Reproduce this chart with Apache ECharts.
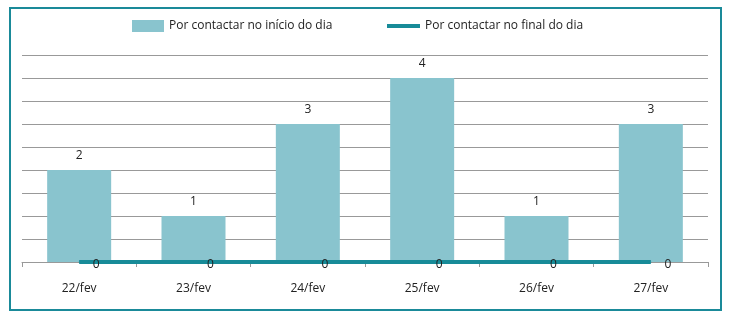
<!DOCTYPE html>
<html>
<head>
<meta charset="utf-8">
<script src="https://cdn.jsdelivr.net/npm/echarts@6/dist/echarts.min.js"></script>
<style>
    body { margin: 0; background: #fff; }
    #frame { position: absolute; left: 9px; top: 7px; width: 709px; height: 300px; border: 2px solid #1a8a99; }
    #chart { position: absolute; left: 0; top: 0; width: 731px; height: 315px; }
</style>
</head>
<body>
<div id="frame"></div>
<div id="chart"></div>
<script>
    var dias = ['22/fev', '23/fev', '24/fev', '25/fev', '26/fev', '27/fev'];
    var inicioDia = [2, 1, 3, 4, 1, 3];
    var finalDia = [0, 0, 0, 0, 0, 0];
    var nomeInicio = 'Por contactar no início do dia';
    var nomeFinal = 'Por contactar no final do dia';

    var chart = echarts.init(document.getElementById('chart'));
    var fonte = '"Open Sans", sans-serif';

    var option = {
        animation: false,
        textStyle: {fontFamily: fonte},
        legend: [{
            data: [nomeInicio],
            left: 127,
            top: 15,
            icon: 'rect',
            itemWidth: 32,
            itemHeight: 12,
            textStyle: {fontSize: 12, color: '#222', fontFamily: fonte}
        }, {
            data: [nomeFinal],
            left: 382,
            top: 15,
            icon: 'rect',
            itemWidth: 33,
            itemHeight: 4,
            textStyle: {fontSize: 12, color: '#222', fontFamily: fonte}
        }],
        grid: {left: 22, right: 23, top: 55, bottom: 53},
        xAxis: {
            type: 'category',
            data: dias,
            axisLine: {lineStyle: {color: '#999', width: 1}},
            axisTick: {show: true, length: 5, lineStyle: {color: '#999'}},
            axisLabel: {color: '#222', fontSize: 12, margin: 21, fontFamily: fonte}
        },
        yAxis: {
            type: 'value',
            min: 0,
            max: 4.5,
            interval: 0.5,
            axisLabel: {show: false},
            axisLine: {show: false},
            axisTick: {show: false},
            splitLine: {lineStyle: {color: '#999', width: 1}}
        },
        series: [{
            name: nomeInicio,
            type: 'bar',
            data: inicioDia,
            barWidth: 64,
            itemStyle: {color: '#89c4ce'},
            label: {show: true, position: 'top', distance: 8, color: '#222', fontSize: 12, fontFamily: fonte}
        }, {
            name: nomeFinal,
            type: 'line',
            data: finalDia,
            symbol: 'circle',
            symbolSize: 1,
            itemStyle: {color: '#178b98'},
            lineStyle: {color: '#178b98', width: 4},
            z: 5,
            label: {show: true, position: 'top', offset: [17, 14], color: '#222', fontSize: 12, fontFamily: fonte}
        }]
    };

    chart.setOption(option);
</script>
</body>
</html>
